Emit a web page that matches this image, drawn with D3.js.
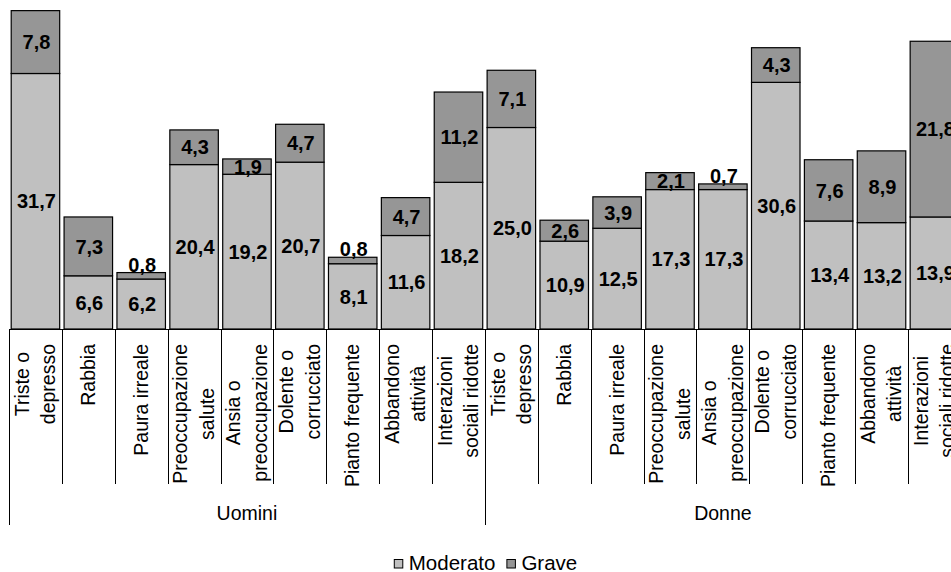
<!DOCTYPE html>
<html>
<head>
<meta charset="utf-8">
<script src="https://cdn.jsdelivr.net/npm/d3@7"></script>
<style>
  html, body { margin: 0; padding: 0; background: #fff; }
  svg { display: block; overflow: hidden; }
  text { font-family: "Liberation Sans", Arial, sans-serif; fill: #000; }
</style>
</head>
<body>
<svg id="chart" width="951" height="572"></svg>
<script>
// ---- data ----
const groups = ["Uomini", "Donne"];
const categories = [
  ["Triste o", "depresso"],
  ["Rabbia"],
  ["Paura irreale"],
  ["Preoccupazione", "salute"],
  ["Ansia o", "preoccupazione"],
  ["Dolente o", "corrucciato"],
  ["Pianto frequente"],
  ["Abbandono", "attività"],
  ["Interazioni", "sociali ridotte"]
];
const seriesNames = ["Moderato", "Grave"];
const moderatoUomini = [31.7, 6.6, 6.2, 20.4, 19.2, 20.7, 8.1, 11.6, 18.2];
const graveUomini    = [7.8, 7.3, 0.8, 4.3, 1.9, 4.7, 0.8, 4.7, 11.2];
const moderatoDonne  = [25.0, 10.9, 12.5, 17.3, 17.3, 30.6, 13.4, 13.2, 13.9];
const graveDonne     = [7.1, 2.6, 3.9, 2.1, 0.7, 4.3, 7.6, 8.9, 21.8];

// ---- table built from arrays ----
const table = [];
groups.forEach((g, gi) => {
  const mod = gi === 0 ? moderatoUomini : moderatoDonne;
  const gra = gi === 0 ? graveUomini : graveDonne;
  categories.forEach((c, ci) => {
    table.push({ key: gi + "-" + ci, group: g, lines: c, Moderato: mod[ci], Grave: gra[ci] });
  });
});

const colors = { Moderato: "#c0c0c0", Grave: "#969696" };
const svg = d3.select("#chart");
svg.append("rect").attr("width", 951).attr("height", 572).attr("fill", "#fff");

const step = 52.88;
const x0 = 9;
const x = d3.scaleBand()
  .domain(table.map(d => d.key))
  .range([x0, x0 + step * table.length])
  .paddingInner(0.083)
  .paddingOuter(0.0415);
const y = d3.scaleLinear().domain([0, 40]).range([329, 6.6]);

const locale = d3.formatLocale({ decimal: ",", thousands: ".", grouping: [3], currency: ["", "€"] });
const fmt = locale.format(".1f");

const stacked = d3.stack().keys(seriesNames)(table);

// bars
const layer = svg.append("g").selectAll("g").data(stacked).join("g")
  .attr("fill", s => colors[s.key]);
layer.selectAll("rect").data(s => s).join("rect")
  .attr("x", d => x(d.data.key))
  .attr("width", x.bandwidth())
  .attr("y", d => y(d[1]))
  .attr("height", d => y(d[0]) - y(d[1]))
  .attr("stroke", "#000")
  .attr("stroke-width", 1.2);

// value labels
const lab = svg.append("g");
stacked.forEach(s => {
  lab.selectAll(null).data(s).join("text")
    .attr("x", d => x(d.data.key) + x.bandwidth() / 2 + 1)
    .attr("y", d => {
      const top = y(d[1]), bot = y(d[0]);
      if (bot - top < 10) return top - 0.8;
      return (top + bot) / 2 + 7.2;
    })
    .attr("text-anchor", "middle")
    .style("font-size", "20px")
    .style("font-weight", "bold")
    .text(d => fmt(d.data[s.key]));
});

// axis
const axis = svg.append("g").attr("stroke", "#000").attr("stroke-width", 1);
const xEnd = x0 + step * table.length;
axis.append("line").attr("x1", x0).attr("x2", xEnd).attr("y1", 329.5).attr("y2", 329.5);
for (let i = 0; i <= table.length; i++) {
  const bx = Math.round(x0 + i * step) + 0.5;
  const isGroup = i % categories.length === 0;
  axis.append("line").attr("x1", bx).attr("x2", bx)
    .attr("y1", 329).attr("y2", isGroup ? 525 : 484);
}

// category labels (rotated)
const catG = svg.append("g").style("font-size", "19.5px");
table.forEach(d => {
  const cx = x(d.key) + x.bandwidth() / 2;
  const g = catG.append("g");
  const n = d.lines.length;
  const texts = d.lines.map((ln, k) =>
    g.append("text")
      .attr("text-anchor", "middle")
      .attr("x", 0)
      .attr("y", 6.5 + (k - (n - 1) / 2) * 26.6)
      .text(ln));
  const maxLen = d3.max(texts, t => t.node().getComputedTextLength());
  g.attr("transform", `translate(${cx},${344 + maxLen / 2}) rotate(-90)`);
});

// group labels
groups.forEach((g, gi) => {
  const cx = x0 + step * categories.length * (gi + 0.5);
  svg.append("text")
    .attr("x", cx).attr("y", 520)
    .attr("text-anchor", "middle")
    .style("font-size", "19.5px")
    .text(g);
});

// legend
const leg = svg.append("g").style("font-size", "20.5px");
let lx = 0;
seriesNames.forEach(name => {
  const it = leg.append("g");
  it.append("rect").attr("x", 0.5).attr("y", 559.5).attr("width", 8.5).attr("height", 8.5)
    .attr("fill", colors[name]).attr("stroke", "#000").attr("stroke-width", 1);
  const t = it.append("text").attr("x", 15).attr("y", 570).text(name);
  const w = 15 + t.node().getComputedTextLength();
  it.attr("transform", `translate(${lx},0)`);
  lx += w + 11;
});
const totalW = lx - 11;
leg.attr("transform", `translate(${485.5 - totalW / 2},0)`);
</script>
</body>
</html>
